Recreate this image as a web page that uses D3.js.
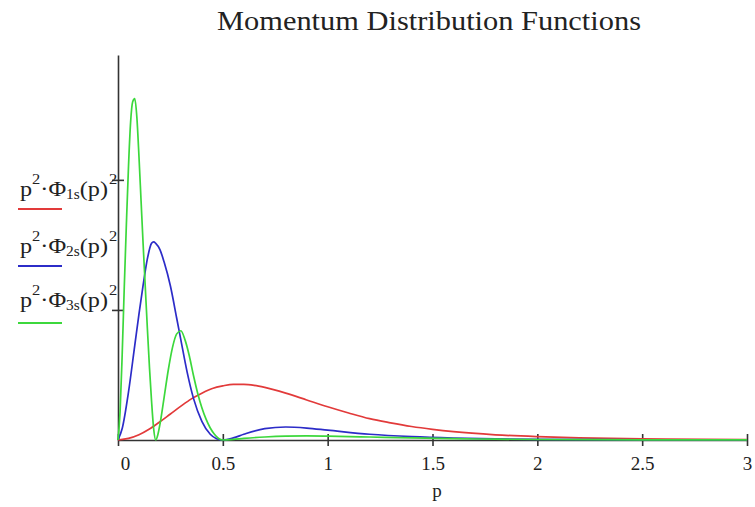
<!DOCTYPE html>
<html>
<head>
<meta charset="utf-8">
<script src="https://cdn.jsdelivr.net/npm/d3@7"></script>
<style>
  html, body { margin: 0; padding: 0; background: #fff; }
  svg { display: block; }
  text { font-family: "Liberation Serif", "Times New Roman", serif; fill: #222; }
</style>
</head>
<body>
<svg id="chart" width="755" height="507"></svg>
<script>
// ---- data ----
const title = "Momentum Distribution Functions";
const xLabel = "p";
const xTicks = [0, 0.5, 1, 1.5, 2, 2.5, 3];
const xTickLabels = ["0", "0.5", "1", "1.5", "2", "2.5", "3"];
const yTicks = [2.5, 5];
const yMax = 7.4;

const p1s = [0, 0.05, 0.1, 0.15, 0.2, 0.25, 0.3, 0.35, 0.4, 0.45, 0.5, 0.55, 0.6, 0.65, 0.7, 0.8, 0.9, 1.0, 1.1, 1.2, 1.3, 1.4, 1.5, 1.6, 1.8, 2.0, 2.2, 2.5, 2.8, 3.0];
const v1s = [0, 0.03, 0.10, 0.21, 0.35, 0.50, 0.65, 0.79, 0.90, 0.99, 1.04, 1.07, 1.07, 1.05, 1.01, 0.90, 0.77, 0.64, 0.52, 0.41, 0.33, 0.26, 0.205, 0.16, 0.10, 0.065, 0.042, 0.023, 0.013, 0.009];

const p2s = [0, 0.02, 0.05, 0.08, 0.10, 0.12, 0.14, 0.16, 0.17, 0.18, 0.20, 0.22, 0.25, 0.28, 0.30, 0.33, 0.36, 0.40, 0.44, 0.47, 0.50, 0.55, 0.60, 0.70, 0.80, 0.90, 1.0, 1.2, 1.4, 1.6, 1.8, 2.0, 2.5, 3.0];
const v2s = [0, 0.22, 0.92, 1.82, 2.42, 2.98, 3.48, 3.78, 3.81, 3.78, 3.66, 3.42, 2.96, 2.34, 1.92, 1.30, 0.80, 0.36, 0.11, 0.025, 0, 0.04, 0.11, 0.22, 0.25, 0.23, 0.19, 0.11, 0.063, 0.036, 0.021, 0.012, 0.004, 0.0015];

const p3s = [0, 0.01, 0.02, 0.03, 0.04, 0.05, 0.06, 0.07, 0.08, 0.09, 0.10, 0.11, 0.12, 0.13, 0.14, 0.15, 0.16, 0.17, 0.18, 0.19, 0.20, 0.22, 0.24, 0.26, 0.28, 0.30, 0.32, 0.34, 0.36, 0.38, 0.40, 0.42, 0.44, 0.46, 0.48, 0.50, 0.55, 0.60, 0.70, 0.80, 0.90, 1.0, 1.2, 1.4, 1.6, 1.8, 2.0, 2.5, 3.0];
const v3s = [0, 0.55, 1.65, 2.95, 4.15, 5.25, 6.10, 6.50, 6.56, 6.20, 5.45, 4.60, 3.75, 2.95, 2.15, 1.40, 0.75, 0.22, 0, 0.10, 0.30, 0.82, 1.35, 1.78, 2.04, 2.10, 1.92, 1.62, 1.24, 0.90, 0.62, 0.40, 0.23, 0.11, 0.03, 0, 0.012, 0.03, 0.058, 0.074, 0.078, 0.074, 0.058, 0.04, 0.026, 0.016, 0.01, 0.004, 0.0015];

const seriesNames = ["1s", "2s", "3s"];
const seriesColors = ["#e23a3a", "#2c2cc8", "#3cd83c"];

// ---- drawing ----
const svg = d3.select("#chart");
const x = d3.scaleLinear().domain([0, 3]).range([118, 747]);
const y = d3.scaleLinear().domain([0, yMax]).range([440, 55]);

svg.append("text")
  .attr("x", 217).attr("y", 30)
  .attr("font-size", 27)
  .attr("textLength", 424).attr("lengthAdjust", "spacingAndGlyphs")
  .text(title);

const series = [
  { name: seriesNames[0], color: seriesColors[0], pts: p1s.map((p, i) => [p, v1s[i]]) },
  { name: seriesNames[1], color: seriesColors[1], pts: p2s.map((p, i) => [p, v2s[i]]) },
  { name: seriesNames[2], color: seriesColors[2], pts: p3s.map((p, i) => [p, v3s[i]]) }
];

// axes
const xAxis = d3.axisBottom(x).tickValues(xTicks)
  .tickFormat((d, i) => xTickLabels[i]).tickSizeInner(6).tickSizeOuter(0).tickPadding(11);
const gx = svg.append("g").attr("transform", `translate(0,${y(0)})`).call(xAxis);
gx.select(".domain").attr("stroke", "#333").attr("stroke-width", 1.6);
gx.selectAll(".tick line").attr("y1", -6).attr("stroke", "#333").attr("stroke-width", 1.6);
gx.selectAll(".tick text")
  .attr("font-family", "Liberation Serif, serif").attr("font-size", 19).attr("fill", "#333")
  .attr("dx", (d) => d === 0 ? 7 : 0);

const yAxis = d3.axisLeft(y).tickValues(yTicks).tickFormat("").tickSizeInner(6).tickSizeOuter(0);
const gy = svg.append("g").attr("transform", `translate(${x(0)},0)`).call(yAxis);
gy.select(".domain").attr("stroke", "#333").attr("stroke-width", 1.6);
gy.selectAll(".tick line").attr("x1", 6).attr("stroke", "#333").attr("stroke-width", 1.6);

// curves
const line = d3.line().x(d => x(d[0])).y(d => y(d[1])).curve(d3.curveMonotoneX);
svg.append("g").selectAll("path").data(series).join("path")
  .attr("d", d => line(d.pts))
  .attr("fill", "none")
  .attr("stroke", d => d.color)
  .attr("stroke-width", 1.7)
  .attr("stroke-linejoin", "round");

// x label
svg.append("text").attr("x", 437).attr("y", 497).attr("text-anchor", "middle")
  .attr("font-size", 19).text(xLabel);

// legend
const legendBase = [196, 253, 307];
const swatchY = [209, 266, 323];
series.forEach((s, i) => {
  const t = svg.append("text")
    .attr("transform", `translate(20,${legendBase[i]}) scale(1.1,1)`)
    .attr("font-size", 22);
  t.append("tspan").text("p");
  t.append("tspan").attr("dy", -12).attr("font-size", 15).text("2");
  t.append("tspan").attr("dy", 12).text("\u00B7\u03A6");
  t.append("tspan").attr("dy", 3).attr("font-size", 14).text(s.name);
  t.append("tspan").attr("dy", -3).text("(p)");
  t.append("tspan").attr("dx", 1).attr("dy", -12).attr("font-size", 15).text("2");
  svg.append("line").attr("x1", 18).attr("x2", 62)
    .attr("y1", swatchY[i]).attr("y2", swatchY[i])
    .attr("stroke", s.color).attr("stroke-width", 2);
});
</script>
</body>
</html>
